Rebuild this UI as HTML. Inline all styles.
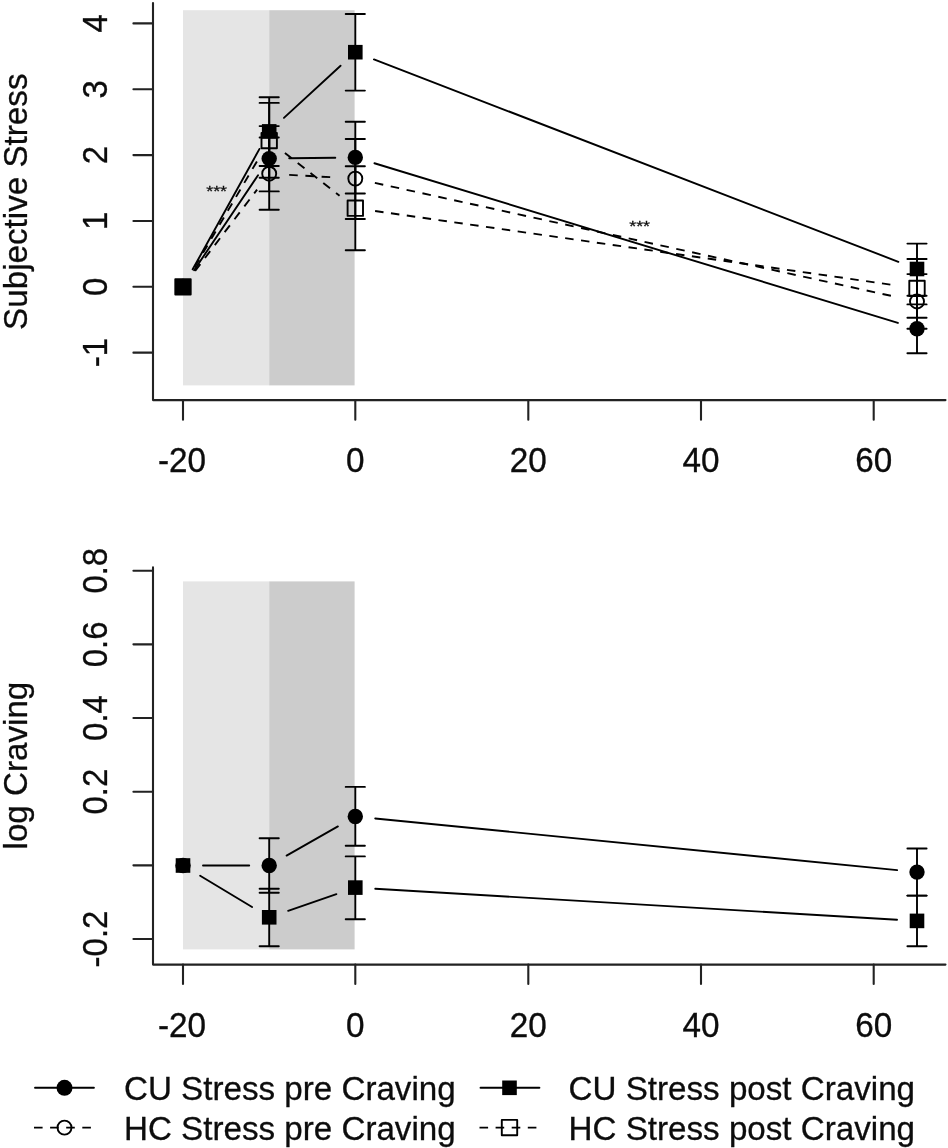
<!DOCTYPE html>
<html><head><meta charset="utf-8"><title>Figure</title>
<style>
html,body{margin:0;padding:0;background:#fff;}
body{width:948px;height:1148px;overflow:hidden;font-family:"Liberation Sans",sans-serif;}
svg{display:block;will-change:transform;}
svg text{font-family:"Liberation Sans",sans-serif;fill:#0c0c0c;stroke:#0c0c0c;stroke-width:0.3px;}
</style></head><body>
<svg width="948" height="1148" viewBox="0 0 948 1148">
<rect x="0" y="0" width="948" height="1148" fill="#ffffff"/>
<rect x="183" y="10.2" width="86.20" height="375.20" fill="#e5e5e5"/>
<rect x="269.2" y="10.2" width="85.40" height="375.20" fill="#cccccc"/>
<path d="M153 3V400.1H945.5" stroke="#222" stroke-width="2.1" fill="none" stroke-linecap="round" stroke-linejoin="round"/>
<line x1="183.0" y1="400.1" x2="183.0" y2="419.7" stroke="#222" stroke-width="2.1" stroke-linecap="round"/>
<text transform="translate(182.00 472.00) scale(1 1.038)" font-size="33.27" text-anchor="middle">-20</text>
<line x1="355.3" y1="400.1" x2="355.3" y2="419.7" stroke="#222" stroke-width="2.1" stroke-linecap="round"/>
<text transform="translate(355.30 472.00) scale(1 1.038)" font-size="33.27" text-anchor="middle">0</text>
<line x1="528.3" y1="400.1" x2="528.3" y2="419.7" stroke="#222" stroke-width="2.1" stroke-linecap="round"/>
<text transform="translate(528.30 472.00) scale(1 1.038)" font-size="33.27" text-anchor="middle">20</text>
<line x1="701.0" y1="400.1" x2="701.0" y2="419.7" stroke="#222" stroke-width="2.1" stroke-linecap="round"/>
<text transform="translate(701.00 472.00) scale(1 1.038)" font-size="33.27" text-anchor="middle">40</text>
<line x1="873.7" y1="400.1" x2="873.7" y2="419.7" stroke="#222" stroke-width="2.1" stroke-linecap="round"/>
<text transform="translate(873.70 472.00) scale(1 1.038)" font-size="33.27" text-anchor="middle">60</text>
<line x1="153" y1="352.65" x2="133.4" y2="352.65" stroke="#222" stroke-width="2.1" stroke-linecap="round"/>
<text transform="translate(106.60 352.65) rotate(-90) scale(0.99 1.035)" font-size="33.27" text-anchor="middle">-1</text>
<line x1="153" y1="286.80" x2="133.4" y2="286.80" stroke="#222" stroke-width="2.1" stroke-linecap="round"/>
<text transform="translate(106.60 286.80) rotate(-90) scale(0.99 1.035)" font-size="33.27" text-anchor="middle">0</text>
<line x1="153" y1="220.95" x2="133.4" y2="220.95" stroke="#222" stroke-width="2.1" stroke-linecap="round"/>
<text transform="translate(106.60 220.95) rotate(-90) scale(0.99 1.035)" font-size="33.27" text-anchor="middle">1</text>
<line x1="153" y1="155.10" x2="133.4" y2="155.10" stroke="#222" stroke-width="2.1" stroke-linecap="round"/>
<text transform="translate(106.60 155.10) rotate(-90) scale(0.99 1.035)" font-size="33.27" text-anchor="middle">2</text>
<line x1="153" y1="89.25" x2="133.4" y2="89.25" stroke="#222" stroke-width="2.1" stroke-linecap="round"/>
<text transform="translate(106.60 89.25) rotate(-90) scale(0.99 1.035)" font-size="33.27" text-anchor="middle">3</text>
<line x1="153" y1="23.40" x2="133.4" y2="23.40" stroke="#222" stroke-width="2.1" stroke-linecap="round"/>
<text transform="translate(106.60 23.40) rotate(-90) scale(0.99 1.035)" font-size="33.27" text-anchor="middle">4</text>
<text transform="translate(26.50 201.70) rotate(-90) scale(0.998 1.0)" font-size="33.27" text-anchor="middle">Subjective Stress</text>
<line x1="194.16" y1="270.20" x2="258.04" y2="175.20" stroke="#000" stroke-width="1.9" stroke-linecap="round"/>
<line x1="289.20" y1="158.32" x2="335.30" y2="157.68" stroke="#000" stroke-width="1.9" stroke-linecap="round"/>
<line x1="374.43" y1="163.24" x2="897.87" y2="322.96" stroke="#000" stroke-width="1.9" stroke-linecap="round"/>
<path d="M269.20 126.10V191.40M259.60 126.10H278.80M259.60 191.40H278.80" stroke="#000" stroke-width="1.9" fill="none" stroke-linecap="round"/>
<path d="M355.30 121.80V193.50M345.70 121.80H364.90M345.70 193.50H364.90" stroke="#000" stroke-width="1.9" fill="none" stroke-linecap="round"/>
<path d="M917.00 304.40V353.20M907.40 304.40H926.60M907.40 353.20H926.60" stroke="#000" stroke-width="1.9" fill="none" stroke-linecap="round"/>
<circle cx="183.00" cy="286.80" r="7.7" fill="#000"/>
<circle cx="269.20" cy="158.60" r="7.7" fill="#000"/>
<circle cx="355.30" cy="157.40" r="7.7" fill="#000"/>
<circle cx="917.00" cy="328.80" r="7.7" fill="#000"/>
<line x1="195.12" y1="270.89" x2="257.08" y2="189.61" stroke="#000" stroke-width="1.9" stroke-dasharray="8.6 7.64"/>
<line x1="289.17" y1="174.84" x2="335.33" y2="177.46" stroke="#000" stroke-width="1.9" stroke-dasharray="8.6 7.64"/>
<line x1="374.84" y1="182.87" x2="897.46" y2="297.23" stroke="#000" stroke-width="1.9" stroke-dasharray="8.6 7.64"/>
<path d="M269.20 137.50V209.80M259.60 137.50H278.80M259.60 209.80H278.80" stroke="#000" stroke-width="1.9" fill="none" stroke-linecap="round"/>
<path d="M355.30 139.00V219.00M345.70 139.00H364.90M345.70 219.00H364.90" stroke="#000" stroke-width="1.9" fill="none" stroke-linecap="round"/>
<path d="M917.00 274.10V328.70M907.40 274.10H926.60M907.40 328.70H926.60" stroke="#000" stroke-width="1.9" fill="none" stroke-linecap="round"/>
<circle cx="183.00" cy="286.80" r="7.0" fill="none" stroke="#000" stroke-width="1.9"/>
<circle cx="269.20" cy="173.70" r="7.0" fill="none" stroke="#000" stroke-width="1.9"/>
<circle cx="355.30" cy="178.60" r="7.0" fill="none" stroke="#000" stroke-width="1.9"/>
<circle cx="917.00" cy="301.50" r="7.0" fill="none" stroke="#000" stroke-width="1.9"/>
<line x1="192.70" y1="269.31" x2="259.50" y2="148.89" stroke="#000" stroke-width="1.9" stroke-linecap="round"/>
<line x1="283.92" y1="117.86" x2="340.58" y2="65.74" stroke="#000" stroke-width="1.9" stroke-linecap="round"/>
<line x1="373.96" y1="59.40" x2="898.34" y2="261.80" stroke="#000" stroke-width="1.9" stroke-linecap="round"/>
<path d="M269.20 97.25V166.00M259.60 97.25H278.80M259.60 166.00H278.80" stroke="#000" stroke-width="1.9" fill="none" stroke-linecap="round"/>
<path d="M355.30 14.00V90.60M345.70 14.00H364.90M345.70 90.60H364.90" stroke="#000" stroke-width="1.9" fill="none" stroke-linecap="round"/>
<path d="M917.00 243.60V295.80M907.40 243.60H926.60M907.40 295.80H926.60" stroke="#000" stroke-width="1.9" fill="none" stroke-linecap="round"/>
<rect x="175.70" y="279.50" width="14.6" height="14.6" fill="#000"/>
<rect x="261.90" y="124.10" width="14.6" height="14.6" fill="#000"/>
<rect x="348.00" y="44.90" width="14.6" height="14.6" fill="#000"/>
<rect x="909.70" y="261.70" width="14.6" height="14.6" fill="#000"/>
<line x1="193.16" y1="269.57" x2="259.04" y2="157.83" stroke="#000" stroke-width="1.9" stroke-dasharray="8.6 7.64" stroke-dashoffset="-3.2"/>
<line x1="284.93" y1="152.95" x2="339.57" y2="195.85" stroke="#000" stroke-width="1.9" stroke-dasharray="8.6 7.64"/>
<line x1="375.10" y1="211.03" x2="897.20" y2="285.57" stroke="#000" stroke-width="1.9" stroke-dasharray="8.5 7.5"/>
<path d="M269.20 102.90V177.80M259.60 102.90H278.80M259.60 177.80H278.80" stroke="#000" stroke-width="1.9" fill="none" stroke-linecap="round"/>
<path d="M355.30 166.30V250.20M345.70 166.30H364.90M345.70 250.20H364.90" stroke="#000" stroke-width="1.9" fill="none" stroke-linecap="round"/>
<path d="M917.00 259.00V317.70M907.40 259.00H926.60M907.40 317.70H926.60" stroke="#000" stroke-width="1.9" fill="none" stroke-linecap="round"/>
<rect x="175.30" y="279.10" width="15.4" height="15.4" fill="none" stroke="#000" stroke-width="1.9" stroke-linejoin="round"/>
<rect x="261.50" y="132.90" width="15.4" height="15.4" fill="none" stroke="#000" stroke-width="1.9" stroke-linejoin="round"/>
<rect x="347.60" y="200.50" width="15.4" height="15.4" fill="none" stroke="#000" stroke-width="1.9" stroke-linejoin="round"/>
<rect x="909.30" y="280.70" width="15.4" height="15.4" fill="none" stroke="#000" stroke-width="1.9" stroke-linejoin="round"/>
<text transform="translate(216.60 196.40) scale(1 0.86)" font-size="17.9" text-anchor="middle">***</text>
<text transform="translate(639.60 231.40) scale(1 0.86)" font-size="17.9" text-anchor="middle">***</text>
<rect x="183" y="581.4" width="86.20" height="368.00" fill="#e5e5e5"/>
<rect x="269.2" y="581.4" width="85.40" height="368.00" fill="#cccccc"/>
<path d="M153 567.4V964.6H945.5" stroke="#222" stroke-width="2.1" fill="none" stroke-linecap="round" stroke-linejoin="round"/>
<line x1="183.0" y1="964.6" x2="183.0" y2="984.0" stroke="#222" stroke-width="2.1" stroke-linecap="round"/>
<text transform="translate(182.00 1036.50) scale(1 1.038)" font-size="33.27" text-anchor="middle">-20</text>
<line x1="355.3" y1="964.6" x2="355.3" y2="984.0" stroke="#222" stroke-width="2.1" stroke-linecap="round"/>
<text transform="translate(355.30 1036.50) scale(1 1.038)" font-size="33.27" text-anchor="middle">0</text>
<line x1="528.3" y1="964.6" x2="528.3" y2="984.0" stroke="#222" stroke-width="2.1" stroke-linecap="round"/>
<text transform="translate(528.30 1036.50) scale(1 1.038)" font-size="33.27" text-anchor="middle">20</text>
<line x1="701.0" y1="964.6" x2="701.0" y2="984.0" stroke="#222" stroke-width="2.1" stroke-linecap="round"/>
<text transform="translate(701.00 1036.50) scale(1 1.038)" font-size="33.27" text-anchor="middle">40</text>
<line x1="873.7" y1="964.6" x2="873.7" y2="984.0" stroke="#222" stroke-width="2.1" stroke-linecap="round"/>
<text transform="translate(873.70 1036.50) scale(1 1.038)" font-size="33.27" text-anchor="middle">60</text>
<line x1="153" y1="939.00" x2="133.4" y2="939.00" stroke="#222" stroke-width="2.1" stroke-linecap="round"/>
<text transform="translate(106.60 939.00) rotate(-90) scale(0.99 1.035)" font-size="33.27" text-anchor="middle">-0.2</text>
<line x1="153" y1="865.34" x2="133.4" y2="865.34" stroke="#222" stroke-width="2.1" stroke-linecap="round"/>
<line x1="153" y1="791.68" x2="133.4" y2="791.68" stroke="#222" stroke-width="2.1" stroke-linecap="round"/>
<text transform="translate(106.60 791.68) rotate(-90) scale(0.99 1.035)" font-size="33.27" text-anchor="middle">0.2</text>
<line x1="153" y1="718.02" x2="133.4" y2="718.02" stroke="#222" stroke-width="2.1" stroke-linecap="round"/>
<text transform="translate(106.60 718.02) rotate(-90) scale(0.99 1.035)" font-size="33.27" text-anchor="middle">0.4</text>
<line x1="153" y1="644.36" x2="133.4" y2="644.36" stroke="#222" stroke-width="2.1" stroke-linecap="round"/>
<text transform="translate(106.60 644.36) rotate(-90) scale(0.99 1.035)" font-size="33.27" text-anchor="middle">0.6</text>
<line x1="153" y1="570.70" x2="133.4" y2="570.70" stroke="#222" stroke-width="2.1" stroke-linecap="round"/>
<text transform="translate(106.60 570.70) rotate(-90) scale(0.99 1.035)" font-size="33.27" text-anchor="middle">0.8</text>
<text transform="translate(26.50 765.60) rotate(-90) scale(0.997 1.0)" font-size="33.27" text-anchor="middle">log Craving</text>
<line x1="203.00" y1="865.50" x2="249.20" y2="865.50" stroke="#000" stroke-width="1.9" stroke-linecap="round"/>
<line x1="286.58" y1="855.61" x2="337.92" y2="826.39" stroke="#000" stroke-width="1.9" stroke-linecap="round"/>
<line x1="375.20" y1="818.47" x2="897.10" y2="870.13" stroke="#000" stroke-width="1.9" stroke-linecap="round"/>
<path d="M269.20 838.20V892.80M259.60 838.20H278.80M259.60 892.80H278.80" stroke="#000" stroke-width="1.9" fill="none" stroke-linecap="round"/>
<path d="M355.30 786.90V845.80M345.70 786.90H364.90M345.70 845.80H364.90" stroke="#000" stroke-width="1.9" fill="none" stroke-linecap="round"/>
<path d="M917.00 848.50V895.60M907.40 848.50H926.60M907.40 895.60H926.60" stroke="#000" stroke-width="1.9" fill="none" stroke-linecap="round"/>
<circle cx="183.00" cy="865.50" r="7.7" fill="#000"/>
<circle cx="269.20" cy="865.50" r="7.7" fill="#000"/>
<circle cx="355.30" cy="816.50" r="7.7" fill="#000"/>
<circle cx="917.00" cy="872.10" r="7.7" fill="#000"/>
<line x1="200.14" y1="875.80" x2="252.06" y2="907.00" stroke="#000" stroke-width="1.9" stroke-linecap="round"/>
<line x1="288.11" y1="910.78" x2="336.39" y2="894.12" stroke="#000" stroke-width="1.9" stroke-linecap="round"/>
<line x1="375.26" y1="888.78" x2="897.04" y2="919.72" stroke="#000" stroke-width="1.9" stroke-linecap="round"/>
<path d="M269.20 888.80V946.20M259.60 888.80H278.80M259.60 946.20H278.80" stroke="#000" stroke-width="1.9" fill="none" stroke-linecap="round"/>
<path d="M355.30 856.40V919.30M345.70 856.40H364.90M345.70 919.30H364.90" stroke="#000" stroke-width="1.9" fill="none" stroke-linecap="round"/>
<path d="M917.00 895.60V946.30M907.40 895.60H926.60M907.40 946.30H926.60" stroke="#000" stroke-width="1.9" fill="none" stroke-linecap="round"/>
<rect x="175.70" y="858.20" width="14.6" height="14.6" fill="#000"/>
<rect x="261.90" y="910.00" width="14.6" height="14.6" fill="#000"/>
<rect x="348.00" y="880.30" width="14.6" height="14.6" fill="#000"/>
<rect x="909.70" y="913.60" width="14.6" height="14.6" fill="#000"/>
<line x1="35.0" y1="1087.8" x2="93.9" y2="1087.8" stroke="#000" stroke-width="1.9" stroke-linecap="round"/>
<circle cx="64.50" cy="1087.80" r="8.0" fill="#000"/>
<text transform="translate(124.00 1100.30) scale(1 1.012)" font-size="33.18" text-anchor="start">CU Stress pre Craving</text>
<line x1="34.0" y1="1127.6" x2="94.6" y2="1127.6" stroke="#000" stroke-width="1.9" stroke-dasharray="8.6 7.5"/>
<circle cx="64.50" cy="1127.60" r="7.0" fill="none" stroke="#000" stroke-width="1.9"/>
<text transform="translate(124.00 1140.10) scale(1 1.012)" font-size="33.18" text-anchor="start">HC Stress pre Craving</text>
<line x1="480.5" y1="1087.8" x2="539.4" y2="1087.8" stroke="#000" stroke-width="1.9" stroke-linecap="round"/>
<rect x="502.20" y="1080.50" width="14.6" height="14.6" fill="#000"/>
<text transform="translate(568.60 1100.30) scale(1 1.012)" font-size="33.18" text-anchor="start">CU Stress post Craving</text>
<line x1="479.5" y1="1127.6" x2="540.1" y2="1127.6" stroke="#000" stroke-width="1.9" stroke-dasharray="8.6 7.5"/>
<rect x="501.80" y="1119.90" width="15.4" height="15.4" fill="none" stroke="#000" stroke-width="1.9" stroke-linejoin="round"/>
<text transform="translate(568.60 1140.10) scale(1 1.012)" font-size="33.18" text-anchor="start">HC Stress post Craving</text>
</svg>
</body></html>
